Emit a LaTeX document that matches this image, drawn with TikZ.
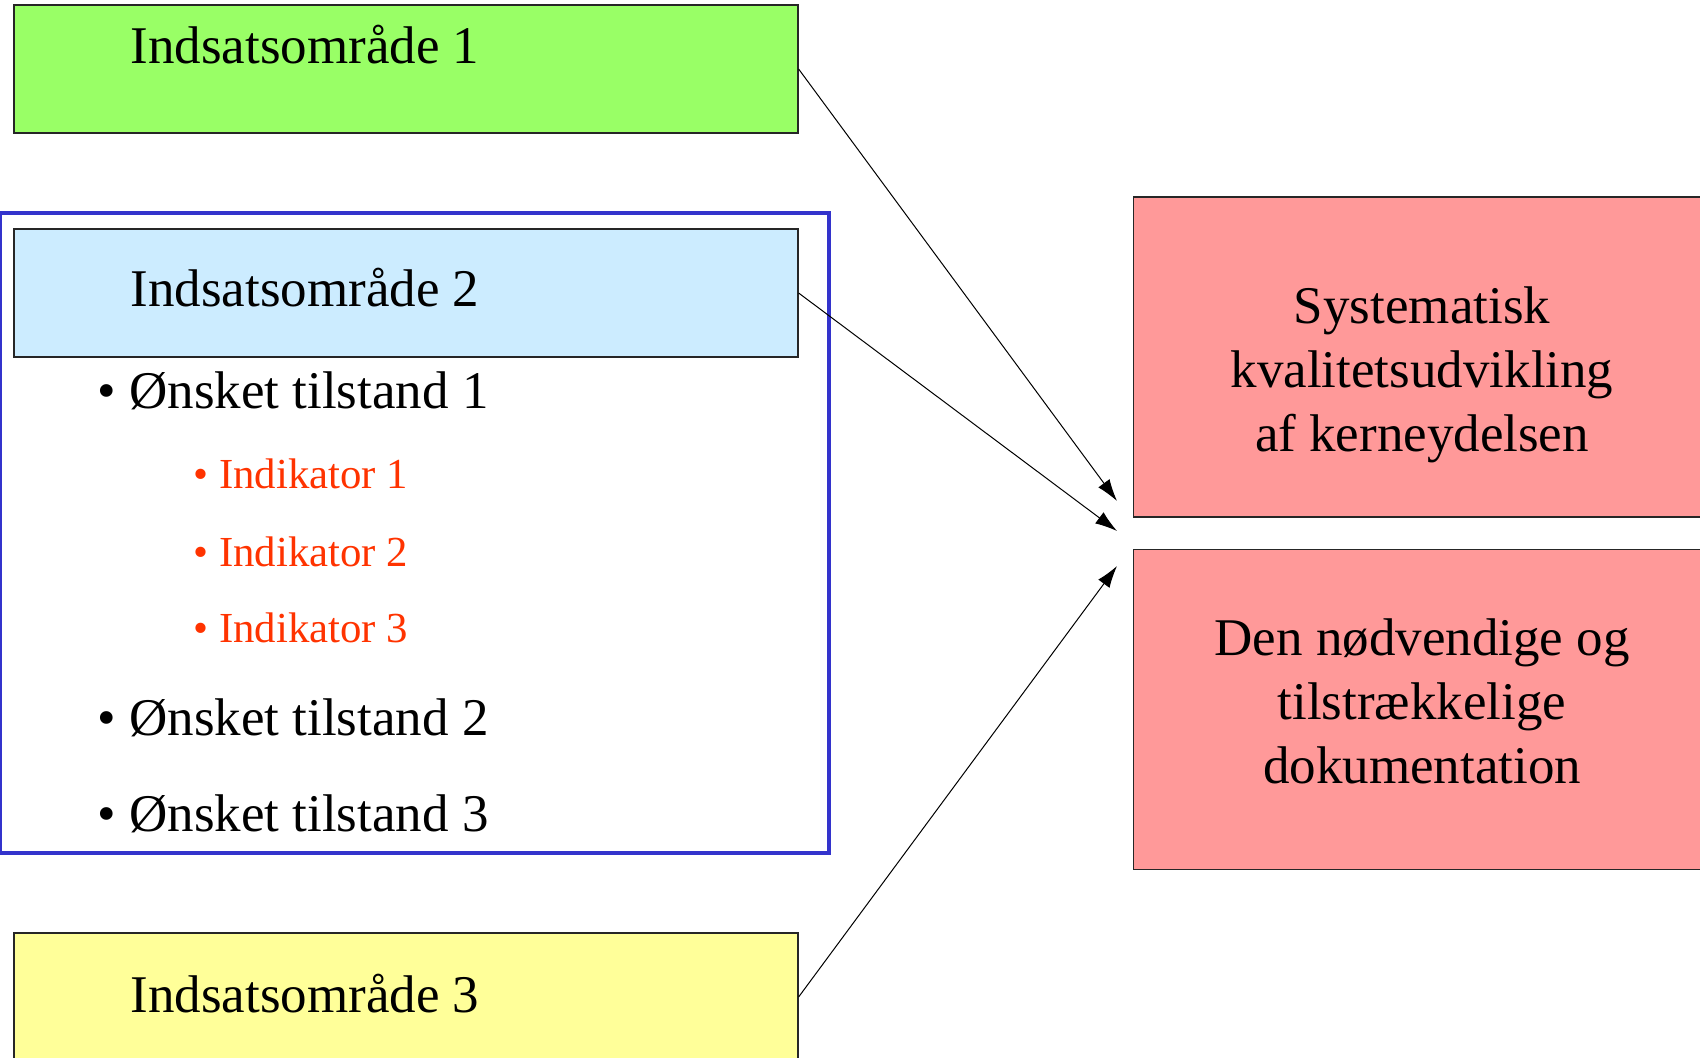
\documentclass[tikz,border=0pt]{standalone}
\usepackage{fontspec}
\setmainfont{Liberation Serif}
\usepackage{tikz}
\usetikzlibrary{arrows.meta}

\definecolor{omrgreen}{HTML}{99FF66}
\definecolor{omrblue}{HTML}{CCECFF}
\definecolor{omryellow}{HTML}{FFFF99}
\definecolor{goalred}{HTML}{FF9999}
\definecolor{indred}{HTML}{FF3300}
\definecolor{framblue}{HTML}{3333CC}

\begin{document}
\begin{tikzpicture}
	[x=0.5pt,y=-0.5pt,>={Latex[length=11pt,width=7pt]},line width=0.5pt,
		area box/.style={draw=black!85,line width=0.6pt,minimum width=392pt,minimum height=64pt,inner sep=0pt},
		goal box/.style={draw=black!85,line width=0.6pt,fill=goalred,minimum width=288.5pt,minimum height=160pt,inner sep=0pt},
		big text/.style={inner sep=0pt,anchor=base west,font=\fontsize{26.5}{32}\selectfont},
		goal text/.style={inner sep=0pt,align=center,font=\fontsize{26.5}{32}\selectfont},
		ind text/.style={inner sep=0pt,anchor=base west,text=indred,font=\fontsize{21.4}{25}\selectfont}]

	\useasboundingbox (0,0) rectangle (1700,1058);

	% indsatsomraader
	\node[area box, fill=omrgreen]  (omr1) at (406,69)  {};
	\node[area box, fill=omrblue]   (omr2) at (406,293) {};
	\node[area box, fill=omryellow] (omr3) at (406,997) {};
	\node[big text] (omr1txt) at (130,64)   {Indsatsområde 1};
	\node[big text] (omr2txt) at (130,307)  {Indsatsområde 2};
	\node[big text] (omr3txt) at (130,1012) {Indsatsområde 3};

	% rammen om omraade 2
	\draw[framblue, line width=2.3pt] (0,213) rectangle (829,853);

	\node[big text] (tilst1) at (97,408.5) {• Ønsket tilstand 1};
	\node[ind text] (ind1)   at (193,488)  {• Indikator 1};
	\node[ind text] (ind2)   at (193,566)  {• Indikator 2};
	\node[ind text] (ind3)   at (193,642)  {• Indikator 3};
	\node[big text] (tilst2) at (97,735)   {• Ønsket tilstand 2};
	\node[big text] (tilst3) at (97,831)   {• Ønsket tilstand 3};

	% maal
	\node[goal box] (kval) at (1422,357)   {};
	\node[goal box] (dok)  at (1422,709.5) {};
	\node[goal text] (kvaltxt) at (1422,375) {Systematisk\\kvalitetsudvikling\\af kerneydelsen};
	\node[goal text] (doktxt)  at (1422,701) {Den nødvendige og\\tilstrækkelige\\dokumentation};

	\coordinate (in1) at (1117,501);
	\coordinate (in2) at (1117,531);
	\coordinate (in3) at (1117,566);

	\path[->]
	(omr1.east) edge (in1)
	(omr2.east) edge (in2)
	(omr3.east) edge (in3)
	;

\end{tikzpicture}
\end{document}
